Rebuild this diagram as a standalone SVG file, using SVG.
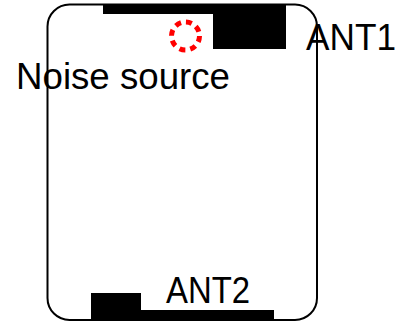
<svg xmlns="http://www.w3.org/2000/svg" width="398" height="323" viewBox="0 0 398 323">
  <style>
    .frame { fill: none; stroke: #000; stroke-width: 2; }
    .ant { fill: #000; stroke: none; }
    .label { font-family: "Liberation Sans", Arial, sans-serif; font-size: 36px; fill: #000; }
    .noise { fill: none; stroke: #ff0000; stroke-width: 5; stroke-dasharray: 6 5; }
  </style>
  <rect width="398" height="323" fill="#fff"/>

  <!-- device outline -->
  <g id="device">
    <rect class="frame" x="47.5" y="4.5" width="269.5" height="315.5" rx="22" ry="22"/>
  </g>

  <!-- top antenna -->
  <g id="ant1">
    <rect class="ant" x="103" y="4" width="183" height="10"/>
    <rect class="ant" x="213" y="4" width="73" height="45"/>
    <text class="label" x="306" y="50" textLength="90" lengthAdjust="spacingAndGlyphs">ANT1</text>
  </g>

  <!-- bottom antenna -->
  <g id="ant2">
    <rect class="ant" x="91" y="310" width="183" height="10"/>
    <rect class="ant" x="91" y="293" width="50" height="27"/>
    <text class="label" x="166" y="303" textLength="84" lengthAdjust="spacingAndGlyphs">ANT2</text>
  </g>

  <!-- noise source marker -->
  <g id="noise">
    <circle class="noise" cx="185.5" cy="36" r="14"/>
    <text class="label" x="16" y="89" textLength="214" lengthAdjust="spacingAndGlyphs">Noise source</text>
  </g>
</svg>
